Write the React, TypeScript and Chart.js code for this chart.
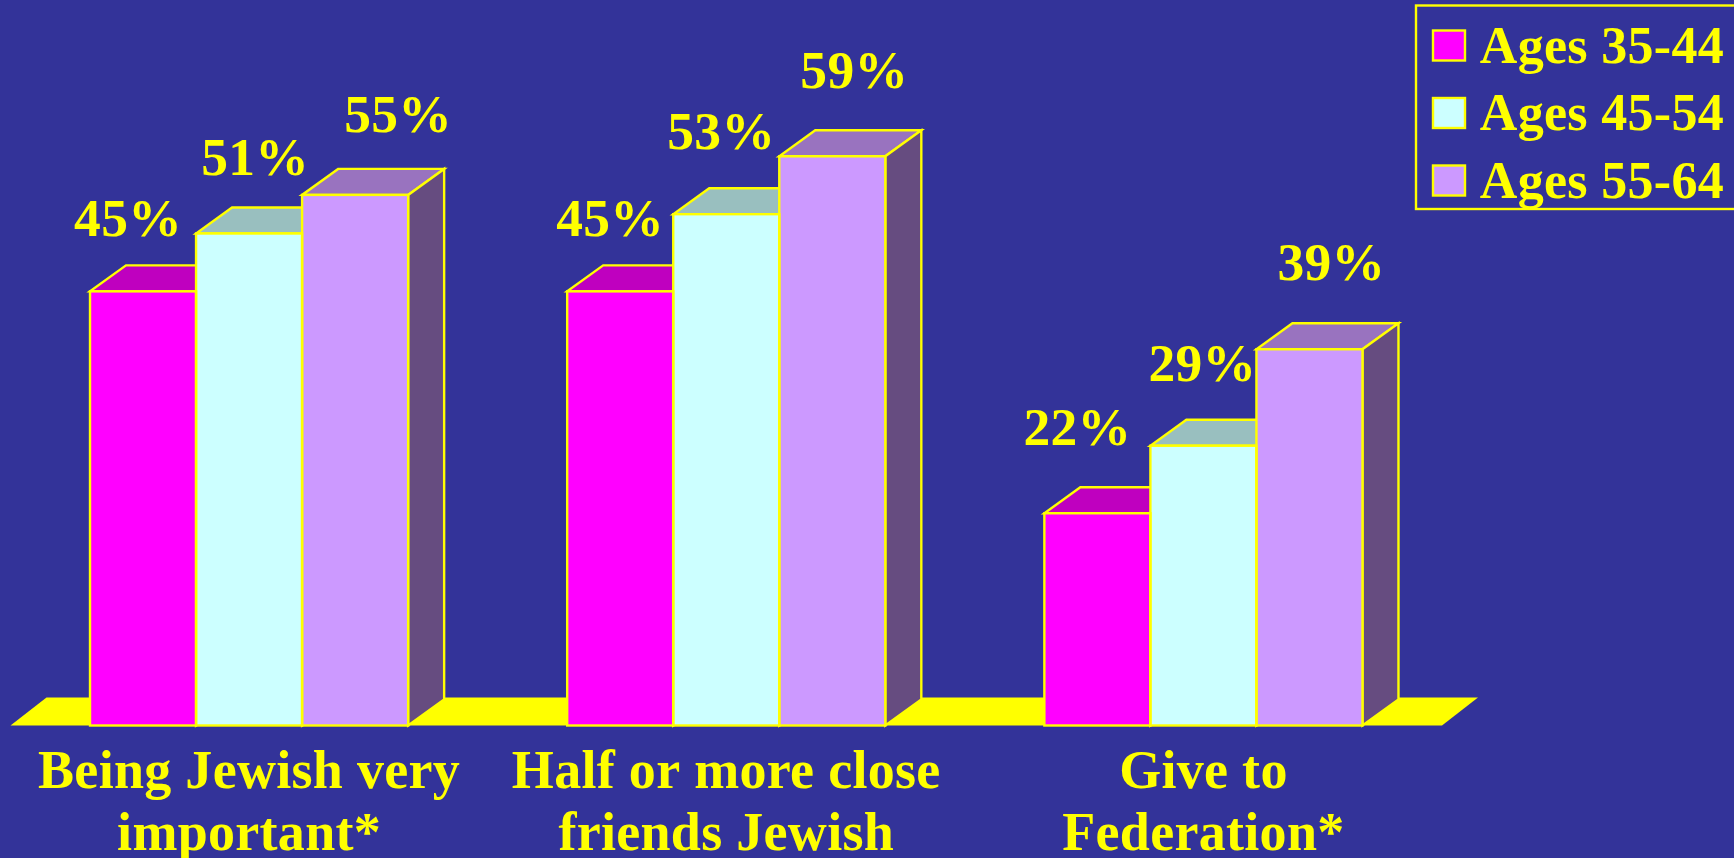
import React, { useEffect, useRef } from "react";
import { Chart, registerables } from "chart.js";

Chart.register(...registerables);

const categories = [
  ["Being Jewish very", "important*"],
  ["Half or more close", "friends Jewish"],
  ["Give to", "Federation*"],
];
const seriesNames = ["Ages 35-44", "Ages 45-54", "Ages 55-64"];
const ages3544 = [45, 45, 22];
const ages4554 = [51, 53, 29];
const ages5564 = [55, 59, 39];

const frontColors = ["#FF00FF", "#CCFFFF", "#CC99FF"];
const topColors = ["#BF00BF", "#99BFBF", "#9973BF"];
const sideColors = ["#800080", "#668080", "#664C80"];
const labelNudges = [
  [[-15, -55], [-10, -55], [-20, -68]],
  [[6, -58], [-5, -65], [-1, -65]],
  [[43, -63], [22, -68], [22, -69]],
];

const YELLOW = "#FFFF00";
const BG = "#333399";
const FONT = "Liberation Serif";
const DX = 36;
const DY = 26;
const FLOOR_DY = 28;
const SPACING = "0.3px";
const LEGEND_ROW = 67.5;
const LINE = 2.4;

const poly = (ctx: any, pts: number[][], fill: string, stroke?: boolean) => {
  ctx.beginPath();
  pts.forEach((p, i) => (i ? ctx.lineTo(p[0], p[1]) : ctx.moveTo(p[0], p[1])));
  ctx.closePath();
  ctx.fillStyle = fill;
  ctx.fill();
  if (stroke) {
    ctx.strokeStyle = YELLOW;
    ctx.lineWidth = LINE;
    ctx.lineJoin = "miter";
    ctx.stroke();
  }
};

const box3d = {
  id: "box3d",
  beforeLayout(chart: any) {
    chart.ctx.letterSpacing = SPACING;
  },
  afterLayout(chart: any) {
    const lg = chart.legend;
    lg.left = 1431;
    lg.right = 1724;
    lg.top = 8;
    lg.bottom = 400;
  },
  beforeDraw(chart: any) {
    const { ctx, width, height } = chart;
    ctx.letterSpacing = SPACING;
    ctx.save();
    ctx.fillStyle = BG;
    ctx.fillRect(0, 0, width, height);
    ctx.strokeStyle = YELLOW;
    ctx.lineWidth = LINE;
    ctx.strokeRect(1416, 5.5, width, 203.5);
    ctx.restore();
  },
  beforeDatasetsDraw(chart: any) {
    const { ctx, chartArea: a } = chart;
    ctx.save();
    poly(ctx, [
      [a.left, a.bottom],
      [a.right, a.bottom],
      [a.right + DX, a.bottom - FLOOR_DY],
      [a.left + DX, a.bottom - FLOOR_DY],
    ], YELLOW);
    chart.data.datasets.forEach((_: any, d: number) => {
      chart.getDatasetMeta(d).data.forEach((bar: any) => {
        const l = bar.x - bar.width / 2;
        const r = bar.x + bar.width / 2;
        const t = bar.y;
        const b = bar.base;
        poly(ctx, [[l, t], [r, t], [r + DX, t - DY], [l + DX, t - DY]], topColors[d], true);
        poly(ctx, [[r, t], [r + DX, t - DY], [r + DX, b - DY], [r, b]], sideColors[d], true);
      });
    });
    ctx.restore();
  },
  afterDatasetsDraw(chart: any) {
    const { ctx } = chart;
    ctx.save();
    chart.data.datasets.forEach((ds: any, d: number) => {
      chart.getDatasetMeta(d).data.forEach((bar: any) => {
        const l = bar.x - bar.width / 2;
        ctx.strokeStyle = YELLOW;
        ctx.lineWidth = LINE;
        ctx.strokeRect(l, bar.y, bar.width, bar.base - bar.y);
      });
    });
    ctx.fillStyle = YELLOW;
    ctx.font = `bold 53.5px "${FONT}"`;
    ctx.textAlign = "center";
    ctx.textBaseline = "alphabetic";
    chart.data.datasets.forEach((ds: any, d: number) => {
      chart.getDatasetMeta(d).data.forEach((bar: any, i: number) => {
        const [nx, ny] = labelNudges[d][i];
        ctx.fillText(`${ds.data[i]}%`, bar.x + nx, bar.y + ny);
      });
    });
    ctx.restore();
  },
  afterDraw(chart: any) {
    const { ctx } = chart;
    ctx.save();
    chart.data.datasets.forEach((ds: any, d: number) => {
      const y = 30.5 + d * LEGEND_ROW;
      ctx.fillStyle = ds.backgroundColor;
      ctx.fillRect(1433, y, 32, 30);
      ctx.strokeStyle = YELLOW;
      ctx.lineWidth = LINE;
      ctx.strokeRect(1433, y, 32, 30);
    });
    ctx.restore();
  },
};

export default function App() {
  const ref = useRef<HTMLCanvasElement>(null);
  useEffect(() => {
    document.body.style.margin = "0";
    document.body.style.background = BG;
    const values = [ages3544, ages4554, ages5564];
    const chart = new Chart(ref.current as HTMLCanvasElement, {
      type: "bar",
      data: {
        labels: categories as any,
        datasets: seriesNames.map((label, d) => ({
          label,
          data: values[d],
          backgroundColor: frontColors[d],
          borderColor: YELLOW,
          borderWidth: 0,
          barPercentage: 1,
          categoryPercentage: 0.6667,
        })),
      },
      options: {
        responsive: false,
        animation: false,
        layout: { padding: { left: 10.5, right: 292, top: 50.2, bottom: 0 } },
        scales: {
          x: {
            grid: { display: false, drawTicks: false },
            border: { display: false },
            ticks: {
              color: YELLOW,
              padding: 18,
              maxRotation: 0,
              minRotation: 0,
              autoSkip: false,
              font: { family: FONT, weight: "bold", size: 54, lineHeight: 1.148 },
            },
            afterFit(scale: any) {
              scale.height = 132.5;
            },
          },
          y: { display: false, min: 0, max: 70 },
        },
        plugins: {
          title: { display: false },
          tooltip: { enabled: false },
          legend: {
            display: true,
            position: "chartArea",
            align: "start",
            labels: {
              color: YELLOW,
              boxWidth: 32,
              boxHeight: 30,
              padding: 15.5,
              textAlign: "right",
              font: { family: FONT, weight: "bold", size: 52 },
              generateLabels(chart: any) {
                return Chart.defaults.plugins.legend.labels
                  .generateLabels(chart)
                  .map((it: any) => ({ ...it, fillStyle: "transparent", strokeStyle: "transparent", lineWidth: 0 }));
              },
            },
          },
        },
      } as any,
      plugins: [box3d],
    });
    return () => chart.destroy();
  }, []);
  return (
    <div style={{ position: "fixed", left: 0, top: 0, width: 1734, height: 858 }}>
      <canvas ref={ref} width={1734} height={858} style={{ display: "block", width: 1734, height: 858 }} />
    </div>
  );
}
